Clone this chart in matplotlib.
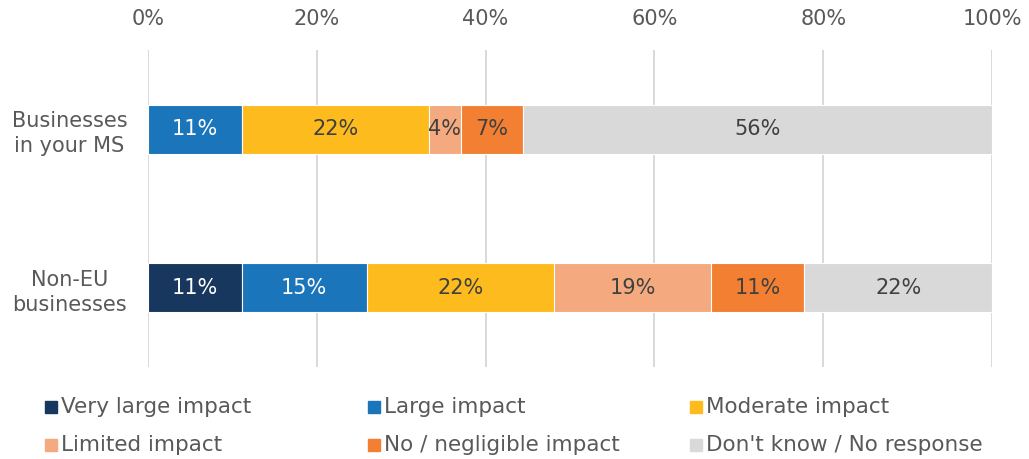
import matplotlib
matplotlib.use("Agg")
import matplotlib.pyplot as plt
from matplotlib.patches import Rectangle

categories = ["Businesses\nin your MS", "Non-EU\nbusinesses"]
series_names = ["Very large impact", "Large impact", "Moderate impact",
                "Limited impact", "No / negligible impact", "Don't know / No response"]
# shares (%) per series, one value per category
very_large = [0.0, 11.11]
large = [11.11, 14.81]
moderate = [22.22, 22.22]
limited = [3.70, 18.52]
negligible = [7.41, 11.11]
dont_know = [55.56, 22.22]
series_values = [very_large, large, moderate, limited, negligible, dont_know]
colors = ["#17375E", "#1B75BB", "#FDBB1E", "#F4AA7E", "#F38032", "#D9D9D9"]
label_colors = ["white", "white", "#404040", "#404040", "#404040", "#404040"]
xticks = [0, 20, 40, 60, 80, 100]
xtick_labels = ["0%", "20%", "40%", "60%", "80%", "100%"]

plt.rcParams['font.family'] = ['DejaVu Sans']
fig = plt.figure(figsize=(10.29, 4.59), dpi=100)
W, H = 1029, 459
ax = fig.add_axes([148 / W, 1 - 367 / H, (992 - 148) / W, (367 - 50) / H])

ypos = list(range(len(categories)))
left = [0.0] * len(categories)
for vals, col, lc in zip(series_values, colors, label_colors):
    ax.barh(ypos, vals, left=left, height=0.31, color=col,
            edgecolor="white", linewidth=0.8, zorder=3)
    for i, v in enumerate(vals):
        if v > 0:
            ax.text(left[i] + v / 2, ypos[i], f"{v:.0f}%", ha="center", va="center",
                    color=lc, fontsize=15, zorder=4)
    left = [l + v for l, v in zip(left, vals)]

ax.set_xlim(0, 100)
ax.set_ylim(1.5, -0.5)
ax.set_xticks(xticks)
ax.set_xticklabels(xtick_labels)
ax.xaxis.tick_top()
ax.tick_params(axis="x", length=0, pad=15, labelsize=15, labelcolor="#595959")
ax.set_yticks(ypos)
ax.set_yticklabels(categories, multialignment="center", linespacing=1.3)
ax.tick_params(axis="y", length=0, pad=15, labelsize=15, labelcolor="#595959")
for s in ax.spines.values():
    s.set_visible(False)
ax.grid(axis="x", color="#D9D9D9", linewidth=1.4, zorder=0)
ax.set_axisbelow(True)

# legend laid out as a 3x2 grid
col_x = [45, 368, 690]
row_y = [407, 445]
for k, (name, col) in enumerate(zip(series_names, colors)):
    r, c = divmod(k, 3)
    x0 = col_x[c]
    y0 = row_y[r]
    fig.patches.append(Rectangle((x0 / W, 1 - (y0 + 6) / H), 12 / W, 12 / H,
                                 transform=fig.transFigure, color=col, figure=fig))
    fig.text((x0 + 16) / W, 1 - y0 / H, name, ha="left", va="center",
             fontsize=15.5, color="#595959")

fig.savefig("out.png", dpi=100, facecolor="white")
